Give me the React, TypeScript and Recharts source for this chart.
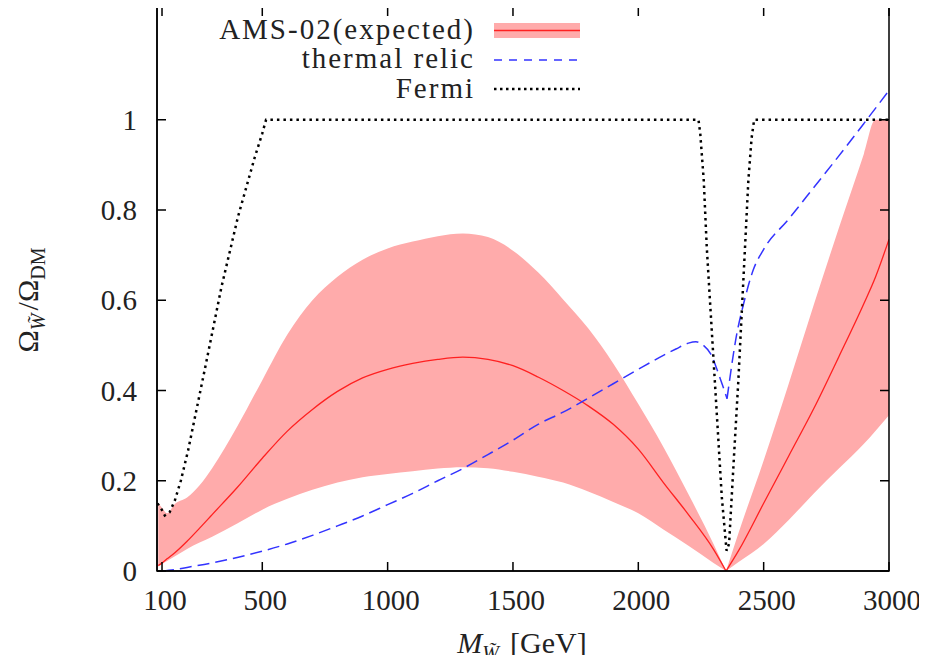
import React from 'react';
import { ComposedChart, Area, Line, XAxis, YAxis } from 'recharts';

// AMS-02 expected band (lower / central / upper)
const bandX = [85, 100, 120, 150, 200, 250, 300, 400, 500, 600, 700, 800, 900, 1000, 1100, 1200, 1300, 1400, 1500, 1600, 1700, 1800, 1900, 2000, 2100, 2200, 2300, 2350, 2400, 2500, 2600, 2700, 2800, 2900, 2945, 3000];
const bandLow = [0.01, 0.015, 0.022, 0.032, 0.049, 0.063, 0.076, 0.105, 0.136, 0.16, 0.18, 0.196, 0.208, 0.215, 0.221, 0.227, 0.23, 0.228, 0.22, 0.209, 0.196, 0.176, 0.153, 0.128, 0.092, 0.056, 0.018, 0, 0.02, 0.06, 0.113, 0.172, 0.227, 0.282, 0.31, 0.345];
const bandMid = [0.012, 0.018, 0.027, 0.04, 0.066, 0.095, 0.125, 0.185, 0.25, 0.31, 0.358, 0.398, 0.428, 0.447, 0.46, 0.469, 0.474, 0.469, 0.455, 0.43, 0.4, 0.366, 0.325, 0.27, 0.196, 0.125, 0.048, 0, 0.045, 0.15, 0.255, 0.36, 0.475, 0.593, 0.65, 0.735];
const bandHigh = [0.15, 0.14, 0.128, 0.148, 0.163, 0.19, 0.228, 0.32, 0.423, 0.524, 0.6, 0.652, 0.69, 0.715, 0.73, 0.742, 0.748, 0.74, 0.71, 0.662, 0.602, 0.538, 0.46, 0.37, 0.275, 0.17, 0.06, 0, 0.085, 0.245, 0.415, 0.59, 0.76, 0.925, 1.0, 1.0];

// thermal relic
const relicX = [100, 150, 200, 300, 400, 500, 600, 700, 800, 900, 1000, 1100, 1200, 1300, 1400, 1500, 1600, 1700, 1800, 1900, 2000, 2100, 2150, 2200, 2230, 2260, 2290, 2320, 2354, 2393, 2419, 2459, 2500, 2600, 2700, 2800, 2900, 3000];
const relicY = [0, 0.003, 0.008, 0.018, 0.03, 0.044, 0.06, 0.079, 0.1, 0.122, 0.147, 0.172, 0.2, 0.227, 0.258, 0.29, 0.325, 0.352, 0.383, 0.415, 0.447, 0.478, 0.492, 0.505, 0.508, 0.5, 0.48, 0.437, 0.382, 0.526, 0.59, 0.668, 0.713, 0.78, 0.85, 0.92, 0.992, 1.065];

// Fermi
const fermiX = [82, 100, 111, 130, 151, 175, 204, 270, 337, 403, 470, 500, 515, 2240, 2247, 2261, 2273, 2293, 2313, 2333, 2352, 2362, 2380, 2399, 2419, 2439, 2452, 2462, 3000];
const fermiY = [0.15, 0.135, 0.123, 0.13, 0.156, 0.2, 0.267, 0.445, 0.629, 0.785, 0.917, 0.97, 1.0, 1.0, 0.97, 0.866, 0.718, 0.533, 0.349, 0.164, 0.045, 0.06, 0.238, 0.422, 0.644, 0.866, 0.96, 1.0, 1.0];

const xTicks = [100, 500, 1000, 1500, 2000, 2500, 3000];
const yTicks = [0, 0.2, 0.4, 0.6, 0.8, 1];

// split at the dip so the smooth curves keep a sharp V
const DIP = 2350;
const bandRows = bandX.map((x, i) => ({ x, range: [bandLow[i], bandHigh[i]], mid: bandMid[i] }));
const bandLeft = bandRows.filter((d) => d.x <= DIP);
const bandRight = bandRows.filter((d) => d.x >= DIP);
const relicRows = relicX.map((x, i) => ({ x, y: relicY[i] }));
const relicLeft = relicRows.filter((d) => d.x <= 2354);
const relicRight = relicRows.filter((d) => d.x >= 2354);
const fermiRows = fermiX.map((x, i) => ({ x, y: fermiY[i] }));

const FONT = '"Liberation Serif", "Times New Roman", serif';
const W = 927;
const H = 663;
const LEFT = 157;
const RIGHT = 889;
const TOP = 7;
const BOTTOM = 571;
const TICK = 9;
const PINK = '#ffabab';
const RED = '#ff2020';
const BLUE = '#3333ff';

const XTick = (props: any) => {
  const { x, payload } = props;
  return (
    <g>
      <path d={`M${x},${BOTTOM}v${-TICK}M${x},${TOP}v${TICK}`} stroke="#000" strokeWidth={1.5} fill="none" />
      <text x={x + 3} y={610} textAnchor="middle" style={{ fontFamily: FONT, fontSize: 29 }} fill="#222">
        {payload.value}
      </text>
    </g>
  );
};

const YTick = (props: any) => {
  const { y, payload } = props;
  return (
    <g>
      <path d={`M${LEFT},${y}h${TICK}M${RIGHT},${y}h${-TICK}`} stroke="#000" strokeWidth={1.5} fill="none" />
      <text x={137} y={y + 10} textAnchor="end" style={{ fontFamily: FONT, fontSize: 29 }} fill="#222">
        {payload.value}
      </text>
    </g>
  );
};

const XTitle = () => (
  <text x={522} y={653} textAnchor="middle" style={{ fontFamily: FONT, fontSize: 30 }} fill="#222">
    <tspan fontStyle="italic">M</tspan>
    <tspan fontStyle="italic" fontSize={20} dy={7}>W̃</tspan>
    <tspan dy={-7} dx={11}>[GeV]</tspan>
  </text>
);

const YTitle = () => (
  <text transform="translate(38,300) rotate(-90)" textAnchor="middle" style={{ fontFamily: FONT, fontSize: 30 }} fill="#222">
    <tspan>Ω</tspan>
    <tspan fontStyle="italic" fontSize={20} dy={7}>W̃</tspan>
    <tspan dy={-7} dx={3}>/Ω</tspan>
    <tspan fontSize={20} dy={7}>DM</tspan>
  </text>
);

// frame and legend drawn on top of the chart
const Overlay = () => (
  <svg width={W} height={H} style={{ position: 'absolute', left: 0, top: 0, pointerEvents: 'none' }}>
    <path
      d={`M${LEFT},${TOP}H${RIGHT}V${BOTTOM}H${LEFT}Z`}
      fill="none"
      stroke="#000"
      strokeWidth={1.5}
    />
    <g style={{ fontFamily: FONT, fontSize: 29, letterSpacing: 2 }} fill="#222" textAnchor="end">
      <text x={475} y={39}>AMS-02(expected)</text>
      <text x={475} y={68}>thermal relic</text>
      <text x={475} y={98}>Fermi</text>
    </g>
    <rect x={494} y={23} width={86} height={15} fill={PINK} />
    <path d="M494,30.5H580" stroke={RED} strokeWidth={1.5} />
    <path d="M494,60H578" stroke={BLUE} strokeWidth={1.5} strokeDasharray="8 7" />
    <path d="M494,89H580" stroke="#000" strokeWidth={2.5} strokeDasharray="2.5 3.5" />
  </svg>
);

export default function App() {
  const lineProps = { dot: false, isAnimationActive: false, activeDot: false } as const;
  return (
    <div style={{ position: 'relative', margin: -8, width: W, height: H, background: '#fff' }}>
      <ComposedChart width={W} height={H} margin={{ top: TOP, right: W - RIGHT, bottom: 0, left: 0 }}>
        <XAxis
          type="number"
          dataKey="x"
          domain={[80, 3000]}
          ticks={xTicks}
          allowDataOverflow
          height={H - BOTTOM}
          tickLine={false}
          axisLine={{ stroke: '#000', strokeWidth: 1.5 }}
          tick={<XTick />}
          interval={0}
          label={{ content: () => <XTitle /> }}
        />
        <YAxis
          type="number"
          domain={[0, 1.25]}
          ticks={yTicks}
          allowDataOverflow
          width={LEFT}
          tickLine={false}
          axisLine={{ stroke: '#000', strokeWidth: 1.5 }}
          tick={<YTick />}
          interval={0}
          label={{ content: () => <YTitle /> }}
        />
        <Area data={bandLeft} dataKey="range" type="monotone" stroke="none" fill={PINK} fillOpacity={1} isAnimationActive={false} />
        <Area data={bandRight} dataKey="range" type="monotone" stroke="none" fill={PINK} fillOpacity={1} isAnimationActive={false} />
        <Line data={bandLeft} dataKey="mid" type="monotone" stroke={RED} strokeWidth={1.3} {...lineProps} />
        <Line data={bandRight} dataKey="mid" type="monotone" stroke={RED} strokeWidth={1.3} {...lineProps} />
        <Line data={relicLeft} dataKey="y" type="monotone" stroke={BLUE} strokeWidth={1.5} strokeDasharray="12 6" {...lineProps} />
        <Line data={relicRight} dataKey="y" type="monotone" stroke={BLUE} strokeWidth={1.5} strokeDasharray="12 6" {...lineProps} />
        <Line data={fermiRows} dataKey="y" type="linear" stroke="#000" strokeWidth={2.5} strokeDasharray="2.5 4" {...lineProps} />
      </ComposedChart>
      <Overlay />
    </div>
  );
}
